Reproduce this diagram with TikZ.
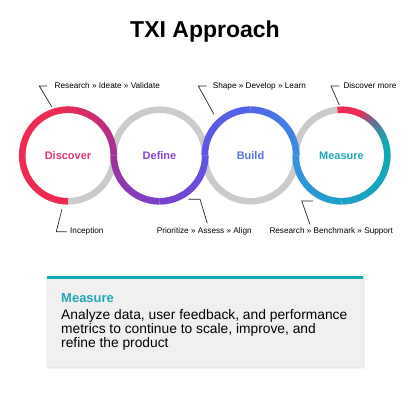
\documentclass[tikz,border=0pt]{standalone}
\usepackage{fontspec}
\setmainfont{Liberation Sans}
\definecolor{ringgray}{HTML}{CBCBCB}
\definecolor{cred}{HTML}{F02A52}
\definecolor{cmag}{HTML}{A2309A}
\definecolor{cpur}{HTML}{7A40CE}
\definecolor{cviol}{HTML}{6154E8}
\definecolor{cblue}{HTML}{4E66E6}
\definecolor{csky}{HTML}{3990E2}
\definecolor{ccyan}{HTML}{1CA0CC}
\definecolor{cteal}{HTML}{12A9B2}
\definecolor{cslate}{HTML}{6A6890}
\definecolor{tDisc}{HTML}{E2386C}
\definecolor{tDef}{HTML}{8A44D6}
\definecolor{tBuild}{HTML}{5676E2}
\definecolor{tMeas}{HTML}{1FA8B6}
\definecolor{boxgray}{HTML}{F0F0F0}
\def\Rr{45.8}
\newcommand\gradarc[6]{%
  \foreach \i in {1,...,#6}{%
    \pgfmathsetmacro\dirr{(#3>#2)?1:-1}%
    \pgfmathsetmacro\aa{#2+(#3-#2)*(\i-1)/#6}%
    \pgfmathsetmacro\bb{#2+(#3-#2)*\i/#6+0.8*\dirr*(\i<#6)}%
    \pgfmathsetmacro\pc{100*(\i-0.5)/#6}%
    \draw[ringcol, draw={#5!\pc!#4}] (#1) ++(\aa:\Rr) arc[start angle=\aa, end angle=\bb, radius=\Rr];
  }}
\tikzset{
  ringcol/.style={line width=6.5pt},
  grayring/.style={line width=6.5pt, draw=ringgray},
  clabel/.style={font=\fontsize{11}{13}\selectfont\bfseries, inner sep=0pt},
  smalllab/.style={font=\fontsize{8.2}{10}\selectfont, inner sep=0pt, anchor=base west},
  leader/.style={line width=0.7pt, draw=black!85},
}
\begin{document}
\begin{tikzpicture}[x=1pt,y=1pt]
\useasboundingbox (0,0) rectangle (410,410);
\fill[white] (0,0) rectangle (410,410);
% title
\node[font=\fontsize{23}{27}\selectfont\bfseries, inner sep=0pt, anchor=base] (title) at (205,372.7) {TXI Approach};
% centres
\coordinate (cD) at (68,254.5);
\coordinate (cF) at (159.5,254.5);
\coordinate (cB) at (250.5,254.5);
\coordinate (cM) at (341.5,254.5);
\foreach \c in {cD,cF,cB,cM} \draw[grayring] (\c) circle[radius=\Rr];
% Discover
\draw[ringcol, draw=cred] (cD) ++(270:\Rr) arc[start angle=270, end angle=99, radius=\Rr];
\gradarc{cD}{100}{0}{cred}{cmag}{40}
% Define
\gradarc{cF}{180}{270}{cmag}{cpur}{30}
\gradarc{cF}{270}{360}{cpur}{cviol}{30}
% Build
\gradarc{cB}{180}{90}{cviol}{cblue}{30}
\gradarc{cB}{90}{0}{cblue}{csky}{30}
% Measure
\gradarc{cM}{180}{270}{csky}{ccyan}{30}
\gradarc{cM}{270}{380}{ccyan}{cteal}{30}
\gradarc{cM}{380}{408}{cteal}{cslate}{14}
\gradarc{cM}{408}{428}{cslate}{cred}{12}
\draw[ringcol, draw=cred] (cM) ++(427:\Rr) arc[start angle=427, end angle=455, radius=\Rr];
% circle labels
\node[clabel, text=tDisc] (nD) at (cD) {Discover};
\node[clabel, text=tDef] (nF) at (cF) {Define};
\node[clabel, text=tBuild] (nB) at (cB) {Build};
\node[clabel, text=tMeas] (nM) at (cM) {Measure};
% small labels
\node[smalllab] (l1) at (54.5,321.5) {Research » Ideate » Validate};
\node[smalllab] (l2) at (70,176) {Inception};
\node[smalllab] (l3) at (156.7,176) {Prioritize » Assess » Align};
\node[smalllab] (l4) at (212.7,321.5) {Shape » Develop » Learn};
\node[smalllab] (l5) at (343.3,321.5) {Discover more};
\node[smalllab] (l6) at (269.3,176) {Research » Benchmark » Support};
% leaders
\coordinate (p1) at (51.7,303.3); \coordinate (k1a) at (39.3,324); \coordinate (k1b) at (47,324);
\draw[leader] (p1) -- (k1a) -- (k1b);
\coordinate (p2) at (62,201); \coordinate (k2a) at (56.3,178.3); \coordinate (k2b) at (66.5,178.3);
\draw[leader] (p2) -- (k2a) -- (k2b);
\coordinate (p3) at (188.3,210.7); \coordinate (k3a) at (200,210.7); \coordinate (k3b) at (207.3,186.7);
\draw[leader] (p3) -- (k3a) -- (k3b);
\coordinate (p4) at (214,295.7); \coordinate (k4a) at (198.3,324); \coordinate (k4b) at (206.7,324);
\draw[leader] (p4) -- (k4a) -- (k4b);
\coordinate (p5) at (339.3,305); \coordinate (k5a) at (331,324); \coordinate (k5b) at (339.3,324);
\draw[leader] (p5) -- (k5a) -- (k5b);
\coordinate (p6) at (313,209); \coordinate (k6a) at (301.7,209); \coordinate (k6b) at (310,185.5);
\draw[leader] (p6) -- (k6a) -- (k6b);
% info box
\fill[black, opacity=0.04] (46,41) rectangle (365,133.5);
\fill[black, opacity=0.05] (47,41.8) rectangle (364.3,133.5);
\fill[boxgray] (47,42.7) rectangle (363.3,131);
\fill[cteal] (47,131) rectangle (363.3,133.7);
\node[font=\fontsize{13}{15}\selectfont\bfseries, text=tMeas, inner sep=0pt, anchor=base west] (bh) at (61,107.7) {Measure};
\node[font=\fontsize{13.8}{14}\selectfont, inner sep=0pt, anchor=north west, align=left] (bt) at (61,100.6) {Analyze data, user feedback, and performance\\metrics to continue to scale, improve, and\\refine the product};
\end{tikzpicture}
\end{document}
